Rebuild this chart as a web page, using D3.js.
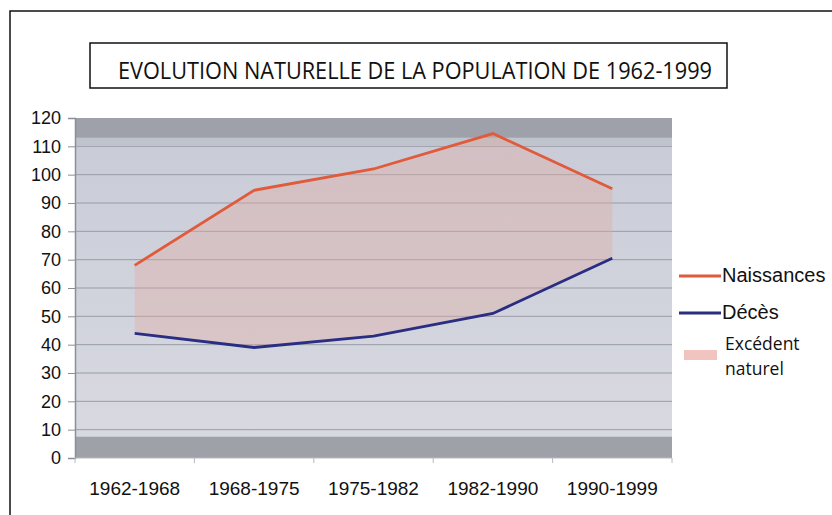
<!DOCTYPE html>
<html>
<head>
<meta charset="utf-8">
<script src="https://cdn.jsdelivr.net/npm/d3@7"></script>
<style>
  body { margin: 0; background: #fff; }
  svg { display: block; }
</style>
</head>
<body>
<svg id="chart" width="832" height="515"></svg>
<script>
// data
const periods = ["1962-1968", "1968-1975", "1975-1982", "1982-1990", "1990-1999"];
const naissances = [68, 94.5, 102, 114.5, 95];
const deces = [44, 39, 43, 51, 70.5];
const yTicks = [0, 10, 20, 30, 40, 50, 60, 70, 80, 90, 100, 110, 120];

const svg = d3.select("#chart");

// plot box
const plotLeft = 75, plotRight = 672, plotTop = 118, plotBottom = 458;

const x = d3.scaleBand().domain(periods).range([plotLeft, plotRight]);
const y = d3.scaleLinear().domain([0, 120]).range([plotBottom, plotTop]);

// outer frame (only top and left edges visible)
svg.append("path")
    .attr("d", `M10,${plotBottom + 60} V11 H832`)
    .attr("fill", "none")
    .attr("stroke", "#111")
    .attr("stroke-width", 1.5);

// title box
svg.append("rect")
    .attr("x", 90).attr("y", 43)
    .attr("width", 637).attr("height", 45)
    .attr("fill", "#fff")
    .attr("stroke", "#111")
    .attr("stroke-width", 1.5);
svg.append("text")
    .attr("x", 415).attr("y", 79)
    .attr("text-anchor", "middle")
    .attr("font-family", "Open Sans, sans-serif")
    .attr("font-size", 24)
    .attr("textLength", 594)
    .attr("lengthAdjust", "spacingAndGlyphs")
    .attr("fill", "#111")
    .text("EVOLUTION NATURELLE DE LA POPULATION DE 1962-1999");

// plot background gradient
const defs = svg.append("defs");
const grad = defs.append("linearGradient")
    .attr("id", "bg").attr("x1", 0).attr("y1", 0).attr("x2", 0).attr("y2", 1);
grad.append("stop").attr("offset", "0%").attr("stop-color", "#c8cbd7");
grad.append("stop").attr("offset", "100%").attr("stop-color", "#d9dae1");

svg.append("rect")
    .attr("x", plotLeft).attr("y", plotTop)
    .attr("width", plotRight - plotLeft).attr("height", plotBottom - plotTop)
    .attr("fill", "url(#bg)");

// dark bands at top and bottom
svg.append("rect")
    .attr("x", plotLeft).attr("y", y(120))
    .attr("width", plotRight - plotLeft).attr("height", y(113) - y(120))
    .attr("fill", "#9ea1aa");
svg.append("rect")
    .attr("x", plotLeft).attr("y", y(113))
    .attr("width", plotRight - plotLeft).attr("height", y(110.5) - y(113))
    .attr("fill", "#bfc3cc");
svg.append("rect")
    .attr("x", plotLeft).attr("y", y(7.5))
    .attr("width", plotRight - plotLeft).attr("height", y(0) - y(7.5))
    .attr("fill", "#9ea1a8");

// grid lines
svg.append("g")
    .selectAll("line")
    .data(yTicks.filter(d => d > 0 && d < 120))
    .enter().append("line")
    .attr("x1", plotLeft).attr("x2", plotRight)
    .attr("y1", d => y(d)).attr("y2", d => y(d))
    .attr("stroke", "#9a9ca6")
    .attr("stroke-width", 1);

// excédent naturel area between the two series
const cx = d => x(d) + x.bandwidth() / 2;
const area = d3.area()
    .x((d, i) => cx(periods[i]))
    .y0((d, i) => y(deces[i]))
    .y1(d => y(d));
svg.append("path")
    .attr("d", area(naissances))
    .attr("fill", "#e2aaa0")
    .attr("fill-opacity", 0.38);

// lines
const line = d3.line()
    .x((d, i) => cx(periods[i]))
    .y(d => y(d));
svg.append("path")
    .attr("d", line(naissances))
    .attr("fill", "none")
    .attr("stroke", "#e05a3c")
    .attr("stroke-width", 2.8);
svg.append("path")
    .attr("d", line(deces))
    .attr("fill", "none")
    .attr("stroke", "#2a2e82")
    .attr("stroke-width", 2.8);

// axes
const yAxis = d3.axisLeft(y).tickValues(yTicks).tickSize(7).tickPadding(7);
const gy = svg.append("g")
    .attr("transform", `translate(${plotLeft},0)`)
    .call(yAxis);
gy.select(".domain").attr("stroke", "#8c8e96").attr("stroke-width", 1.5);
gy.selectAll(".tick line").attr("stroke", "#8c8e96");
gy.selectAll("text")
    .attr("font-family", "Liberation Sans, Arial, sans-serif")
    .attr("font-size", 18)
    .attr("fill", "#111");

const gx = svg.append("g")
    .attr("transform", `translate(0,${plotBottom})`);
gx.append("line")
    .attr("x1", plotLeft).attr("x2", plotRight)
    .attr("stroke", "#b8bac0");
gx.selectAll(".xtick")
    .data(periods.concat(["end"]))
    .enter().append("line")
    .attr("x1", (d, i) => plotLeft + i * x.bandwidth())
    .attr("x2", (d, i) => plotLeft + i * x.bandwidth())
    .attr("y1", 0).attr("y2", 5)
    .attr("stroke", "#b8bac0");
gx.selectAll("text")
    .data(periods)
    .enter().append("text")
    .attr("x", d => cx(d))
    .attr("y", 37)
    .attr("text-anchor", "middle")
    .attr("font-family", "Liberation Sans, Arial, sans-serif")
    .attr("font-size", 19)
    .attr("fill", "#111")
    .text(d => d);

// legend
const legend = svg.append("g");
legend.append("line")
    .attr("x1", 679).attr("x2", 721).attr("y1", 276).attr("y2", 276)
    .attr("stroke", "#e05a3c").attr("stroke-width", 2.8);
legend.append("text")
    .attr("x", 722).attr("y", 282)
    .attr("font-family", "Liberation Sans, Arial, sans-serif")
    .attr("font-size", 20).attr("fill", "#111")
    .text("Naissances");
legend.append("line")
    .attr("x1", 679).attr("x2", 721).attr("y1", 313).attr("y2", 313)
    .attr("stroke", "#2a2e82").attr("stroke-width", 2.8);
legend.append("text")
    .attr("x", 722).attr("y", 319)
    .attr("font-family", "Liberation Sans, Arial, sans-serif")
    .attr("font-size", 20).attr("fill", "#111")
    .text("Décès");
legend.append("rect")
    .attr("x", 684).attr("y", 350)
    .attr("width", 33).attr("height", 10)
    .attr("fill", "#f2c4c0");
legend.append("text")
    .attr("x", 725).attr("y", 350)
    .attr("font-family", "Open Sans, sans-serif")
    .attr("font-size", 17.5).attr("fill", "#111")
    .text("Excédent");
legend.append("text")
    .attr("x", 725).attr("y", 375)
    .attr("font-family", "Open Sans, sans-serif")
    .attr("font-size", 17.5).attr("fill", "#111")
    .text("naturel");
</script>
</body>
</html>
